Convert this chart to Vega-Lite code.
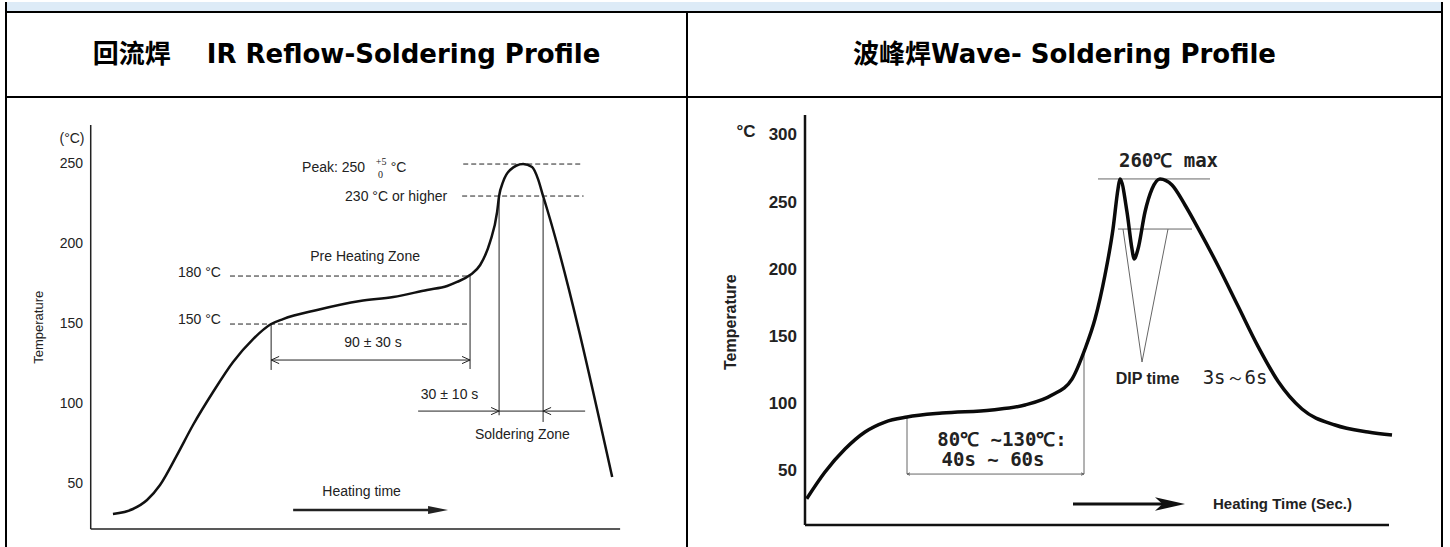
{
  "$schema": "https://vega.github.io/schema/vega-lite/v6.json",
  "background": "white",
  "padding": {"left": 5, "top": 0, "right": 8, "bottom": 0},
  "bounds": "flush",
  "spacing": 0,
  "columns": 2,
  "config": {"view": {"stroke": null}, "concat": {"spacing": 0}},
  "concat": [
    {
      "width": 681, "height": 10,
      "view": {"fill": "#DDEBF7", "stroke": null},
      "data": {"values": [{"label": ""}]},
      "mark": {"type": "text"},
      "encoding": {"text": {"field": "label"}}
    },
    {
      "width": 755, "height": 10,
      "view": {"fill": "#DDEBF7", "stroke": null},
      "data": {"values": [{"label": ""}]},
      "mark": {"type": "text"},
      "encoding": {"text": {"field": "label"}}
    },
    {
      "width": 681, "height": 85,
      "view": {"stroke": "black", "strokeWidth": 2},
      "data": {"values": [{"title": "回流焊\u00a0\u00a0\u00a0\u00a0IR Reflow-Soldering Profile"}]},
      "mark": {"type": "text", "font": "'DejaVu Sans', 'Noto Sans CJK SC', sans-serif", "fontSize": 26, "fontWeight": "bold", "color": "black"},
      "encoding": {"text": {"field": "title"}}
    },
    {
      "width": 755, "height": 85,
      "view": {"stroke": "black", "strokeWidth": 2},
      "data": {"values": [{"title": "波峰焊Wave- Soldering Profile"}]},
      "mark": {"type": "text", "font": "'DejaVu Sans', 'Noto Sans CJK SC', sans-serif", "fontSize": 26, "fontWeight": "bold", "color": "black"},
      "encoding": {"text": {"field": "title"}}
    },
    {
      "width": 681, "height": 452,
      "encoding": {
        "x": {"field": "t", "type": "quantitative", "scale": {"domain": [-38.5, 271], "nice": false, "zero": false}, "axis": null},
        "y": {"field": "T", "type": "quantitative", "scale": {"domain": [9.4, 291.9], "nice": false, "zero": false}, "axis": null}
      },
      "layer": [
        {
          "data": {"values": [
            {"t": -38.5, "T": 9.4, "t2": -38.5, "T2": 351.3},
            {"t": 271, "T": 9.4, "t2": 271, "T2": 291.9}
          ]},
          "mark": {"type": "rule", "color": "black", "strokeWidth": 2},
          "encoding": {"x2": {"field": "t2"}, "y2": {"field": "T2"}}
        },
        {
          "data": {"values": [
            {"t": 0, "T": 21.9, "t2": 0, "T2": 274.4},
            {"t": 0, "T": 21.9, "t2": 240.6, "T2": 21.9}
          ]},
          "mark": {"type": "rule", "color": "#222", "strokeWidth": 1.5},
          "encoding": {"x2": {"field": "t2"}, "y2": {"field": "T2"}}
        },
        {
          "data": {"values": [
            {"t": 63.3, "T": 180, "t2": 172.4, "T2": 180},
            {"t": 63.3, "T": 150, "t2": 172.4, "T2": 150},
            {"t": 169.3, "T": 250, "t2": 223.4, "T2": 250},
            {"t": 168.8, "T": 230, "t2": 224, "T2": 230}
          ]},
          "mark": {"type": "rule", "color": "#222", "strokeWidth": 1, "strokeDash": [5, 3]},
          "encoding": {"x2": {"field": "t2"}, "y2": {"field": "T2"}}
        },
        {
          "data": {"values": [
            {"t": 82, "T": 150, "t2": 82, "T2": 121.3},
            {"t": 172.4, "T": 180.6, "t2": 172.4, "T2": 121.9},
            {"t": 82, "T": 127.5, "t2": 172.4, "T2": 127.5},
            {"t": 185.6, "T": 230, "t2": 185.6, "T2": 93},
            {"t": 205.6, "T": 228, "t2": 205.6, "T2": 88.8},
            {"t": 148.8, "T": 95.6, "t2": 224.7, "T2": 95.6}
          ]},
          "mark": {"type": "rule", "color": "#222", "strokeWidth": 1},
          "encoding": {"x2": {"field": "t2"}, "y2": {"field": "T2"}}
        },
        {
          "data": {"values": [{"t": 82, "T": 127.5}, {"t": 205.6, "T": 95.6}]},
          "mark": {"type": "point", "shape": "M2,-0.9L0,0L2,0.9", "filled": false, "size": 64, "color": "#222", "strokeWidth": 1, "opacity": 1}
        },
        {
          "data": {"values": [{"t": 172.4, "T": 127.5}, {"t": 185.6, "T": 95.6}]},
          "mark": {"type": "point", "shape": "M-2,-0.9L0,0L-2,0.9", "filled": false, "size": 64, "color": "#222", "strokeWidth": 1, "opacity": 1}
        },
        {
          "data": {"values": [{"t": 92, "T": 33.75, "t2": 155, "T2": 33.75}]},
          "mark": {"type": "rule", "color": "#222", "strokeWidth": 2.5},
          "encoding": {"x2": {"field": "t2"}, "y2": {"field": "T2"}}
        },
        {
          "data": {"values": [{"t": 162.4, "T": 33.75}]},
          "mark": {"type": "point", "shape": "M0,0L-2.5,-0.5L-2.5,0.5Z", "filled": true, "size": 256, "color": "#222", "opacity": 1}
        },
        {
          "data": {"values": [
            {"t": 10.1, "T": 31.3}, {"t": 19.2, "T": 34.4}, {"t": 25.6, "T": 40}, {"t": 31.5, "T": 49.4},
            {"t": 39.2, "T": 68.1}, {"t": 46.5, "T": 86.9}, {"t": 55.6, "T": 107.5}, {"t": 64.7, "T": 126.3},
            {"t": 73.8, "T": 140.6}, {"t": 82, "T": 150}, {"t": 87.4, "T": 153.1}, {"t": 102.9, "T": 158.8},
            {"t": 122.4, "T": 164.4}, {"t": 137.5, "T": 166.9}, {"t": 152.9, "T": 171.3}, {"t": 162, "T": 173.8},
            {"t": 166.5, "T": 176.3}, {"t": 172.4, "T": 180.6}, {"t": 177, "T": 186.9}, {"t": 181.5, "T": 201.3},
            {"t": 184.7, "T": 220}, {"t": 185.6, "T": 230}, {"t": 187.4, "T": 238.8}, {"t": 190.6, "T": 246.3},
            {"t": 196.5, "T": 250}, {"t": 200.6, "T": 248.1}, {"t": 203.3, "T": 240.6}, {"t": 205.6, "T": 230},
            {"t": 207.4, "T": 221.9}, {"t": 237, "T": 54.4}
          ]},
          "mark": {"type": "line", "color": "#111", "strokeWidth": 2.5, "interpolate": "monotone"},
          "encoding": {}
        },
        {
          "data": {"values": [
            {"t": -3.5, "T": 250, "label": "250"},
            {"t": -3.5, "T": 200, "label": "200"},
            {"t": -3.5, "T": 150, "label": "150"},
            {"t": -3.5, "T": 100, "label": "100"},
            {"t": -3.5, "T": 50, "label": "50"}
          ]},
          "mark": {"type": "text", "align": "right", "baseline": "middle", "font": "'Liberation Sans', Arial, sans-serif", "fontSize": 14, "color": "#222"},
          "encoding": {"text": {"field": "label"}}
        },
        {
          "data": {"values": [
            {"t": 49.4, "T": 182.1, "label": "180 °C"},
            {"t": 49.4, "T": 152.5, "label": "150 °C"},
            {"t": 124.7, "T": 191.9, "label": "Pre Heating Zone"},
            {"t": 110.4, "T": 247.5, "label": "Peak: 250"},
            {"t": 139.9, "T": 247.5, "label": "°C"},
            {"t": 138.8, "T": 229.4, "label": "230 °C or higher"},
            {"t": 128.3, "T": 138.1, "label": "90 ± 30 s"},
            {"t": 163.1, "T": 105.6, "label": "30 ± 10 s"},
            {"t": 196.2, "T": 80.6, "label": "Soldering Zone"},
            {"t": 123.1, "T": 45, "label": "Heating time"},
            {"t": -8.5, "T": 265.6, "label": "(°C)"}
          ]},
          "mark": {"type": "text", "align": "center", "baseline": "middle", "font": "'Liberation Sans', Arial, sans-serif", "fontSize": 14, "color": "#222"},
          "encoding": {"text": {"field": "label"}}
        },
        {
          "data": {"values": [
            {"t": 132, "T": 251.25, "label": "+5"},
            {"t": 131.7, "T": 243.1, "label": "0"}
          ]},
          "mark": {"type": "text", "align": "center", "baseline": "middle", "font": "'Liberation Serif', serif", "fontSize": 10, "color": "#222"},
          "encoding": {"text": {"field": "label"}}
        },
        {
          "data": {"values": [{"t": -23.5, "T": 148, "label": "Temperature"}]},
          "mark": {"type": "text", "align": "center", "baseline": "middle", "angle": 270, "font": "'Liberation Sans', Arial, sans-serif", "fontSize": 13, "color": "#222"},
          "encoding": {"text": {"field": "label"}}
        }
      ]
    },
    {
      "width": 755, "height": 452,
      "encoding": {
        "x": {"field": "t", "type": "quantitative", "scale": {"domain": [-59, 318.5], "nice": false, "zero": false}, "axis": null},
        "y": {"field": "T", "type": "quantitative", "scale": {"domain": [-7.9, 328.6], "nice": false, "zero": false}, "axis": null}
      },
      "layer": [
        {
          "data": {"values": [
            {"t": 318.5, "T": -7.9, "t2": 318.5, "T2": 399.3}
          ]},
          "mark": {"type": "rule", "color": "black", "strokeWidth": 2},
          "encoding": {"x2": {"field": "t2"}, "y2": {"field": "T2"}}
        },
        {
          "data": {"values": [
            {"t": 0, "T": 10, "t2": 0, "T2": 315.2},
            {"t": 0, "T": 10, "t2": 292, "T2": 10}
          ]},
          "mark": {"type": "rule", "color": "#111", "strokeWidth": 2.5},
          "encoding": {"x2": {"field": "t2"}, "y2": {"field": "T2"}}
        },
        {
          "data": {"values": [
            {"t": 146.5, "T": 267.6, "t2": 202.5, "T2": 267.6},
            {"t": 156.5, "T": 230.3, "t2": 193.5, "T2": 230.3},
            {"t": 159, "T": 230.3, "t2": 168.5, "T2": 131.3},
            {"t": 181.5, "T": 230.3, "t2": 168.5, "T2": 131.3},
            {"t": 51, "T": 90.3, "t2": 51, "T2": 47.9},
            {"t": 139.5, "T": 138, "t2": 139.5, "T2": 47.9},
            {"t": 51, "T": 47.9, "t2": 139.5, "T2": 47.9}
          ]},
          "mark": {"type": "rule", "color": "#666", "strokeWidth": 1},
          "encoding": {"x2": {"field": "t2"}, "y2": {"field": "T2"}}
        },
        {
          "data": {"values": [{"t": 51, "T": 47.9}]},
          "mark": {"type": "point", "shape": "M2,-0.8L0,0L2,0.8", "filled": false, "size": 9, "color": "#666", "strokeWidth": 1, "opacity": 1}
        },
        {
          "data": {"values": [{"t": 139.5, "T": 47.9}]},
          "mark": {"type": "point", "shape": "M-2,-0.8L0,0L-2,0.8", "filled": false, "size": 9, "color": "#666", "strokeWidth": 1, "opacity": 1}
        },
        {
          "data": {"values": [{"t": 134, "T": 25.6, "t2": 180, "T2": 25.6}]},
          "mark": {"type": "rule", "color": "#111", "strokeWidth": 3},
          "encoding": {"x2": {"field": "t2"}, "y2": {"field": "T2"}}
        },
        {
          "data": {"values": [{"t": 190, "T": 25.6}]},
          "mark": {"type": "point", "shape": "M0,0L-2,-0.45L-1.5,0L-2,0.45Z", "filled": true, "size": 900, "color": "#111", "opacity": 1}
        },
        {
          "data": {"values": [
            {"t": 0.85, "T": 29.5}, {"t": 10, "T": 49.4}, {"t": 20, "T": 66.5}, {"t": 30, "T": 79.2},
            {"t": 40, "T": 86.6}, {"t": 51, "T": 90.3}, {"t": 68.5, "T": 93.3}, {"t": 93.5, "T": 95.6},
            {"t": 110, "T": 99.3}, {"t": 123.5, "T": 106.7}, {"t": 133.5, "T": 118.6}, {"t": 140, "T": 141},
            {"t": 145, "T": 163.3}, {"t": 150, "T": 196.1}, {"t": 154, "T": 230.3}, {"t": 156.5, "T": 260.1},
            {"t": 157.5, "T": 267.6}, {"t": 161, "T": 243}, {"t": 163.5, "T": 215.4}, {"t": 164.5, "T": 208},
            {"t": 166.5, "T": 215.4}, {"t": 170, "T": 243}, {"t": 173.5, "T": 260.1}, {"t": 177.5, "T": 267.6},
            {"t": 183.5, "T": 263.1}, {"t": 190, "T": 248.2}, {"t": 196.5, "T": 231}, {"t": 206.5, "T": 203},
            {"t": 216.5, "T": 173}, {"t": 226.5, "T": 143}, {"t": 236.5, "T": 117}, {"t": 248.5, "T": 96.3},
            {"t": 265, "T": 84.4}, {"t": 281.5, "T": 79.2}, {"t": 293.5, "T": 76.9}
          ]},
          "mark": {"type": "line", "color": "#0a0a0a", "strokeWidth": 3.5, "interpolate": "monotone"},
          "encoding": {}
        },
        {
          "data": {"values": [
            {"t": -4, "T": 300, "label": "300"},
            {"t": -4, "T": 250, "label": "250"},
            {"t": -4, "T": 200, "label": "200"},
            {"t": -4, "T": 150, "label": "150"},
            {"t": -4, "T": 100, "label": "100"},
            {"t": -4, "T": 50, "label": "50"}
          ]},
          "mark": {"type": "text", "align": "right", "baseline": "middle", "font": "'Liberation Sans', Arial, sans-serif", "fontSize": 17, "fontWeight": "bold", "color": "#222"},
          "encoding": {"text": {"field": "label"}}
        },
        {
          "data": {"values": [{"t": -29.5, "T": 302.5, "label": "°C"}]},
          "mark": {"type": "text", "align": "center", "baseline": "middle", "font": "'Liberation Sans', Arial, sans-serif", "fontSize": 17, "fontWeight": "bold", "color": "#222"},
          "encoding": {"text": {"field": "label"}}
        },
        {
          "data": {"values": [{"t": -37, "T": 161, "label": "Temperature"}]},
          "mark": {"type": "text", "align": "center", "baseline": "middle", "angle": 270, "font": "'Liberation Sans', Arial, sans-serif", "fontSize": 16, "fontWeight": "bold", "color": "#222"},
          "encoding": {"text": {"field": "label"}}
        },
        {
          "data": {"values": [
            {"t": 181.75, "T": 281, "label": "260℃  max"},
            {"t": 98.5, "T": 73.2, "label": "80℃ ~130℃:"},
            {"t": 94, "T": 58.3, "label": "40s ~ 60s"}
          ]},
          "mark": {"type": "text", "align": "center", "baseline": "middle", "font": "'DejaVu Sans Mono', monospace", "fontSize": 19, "fontWeight": "bold", "color": "#222"},
          "encoding": {"text": {"field": "label"}}
        },
        {
          "data": {"values": [{"t": 215, "T": 119.5, "label": "3s～6s"}]},
          "mark": {"type": "text", "align": "center", "baseline": "middle", "font": "'DejaVu Sans Mono', monospace", "fontSize": 19, "color": "#222"},
          "encoding": {"text": {"field": "label"}}
        },
        {
          "data": {"values": [{"t": 171.25, "T": 118.6, "label": "DIP time"}]},
          "mark": {"type": "text", "align": "center", "baseline": "middle", "font": "'Liberation Sans', Arial, sans-serif", "fontSize": 16, "fontWeight": "bold", "color": "#222"},
          "encoding": {"text": {"field": "label"}}
        },
        {
          "data": {"values": [{"t": 238.75, "T": 25.3, "label": "Heating Time (Sec.)"}]},
          "mark": {"type": "text", "align": "center", "baseline": "middle", "font": "'Liberation Sans', Arial, sans-serif", "fontSize": 15, "fontWeight": "bold", "color": "#222"},
          "encoding": {"text": {"field": "label"}}
        }
      ]
    }
  ]
}
